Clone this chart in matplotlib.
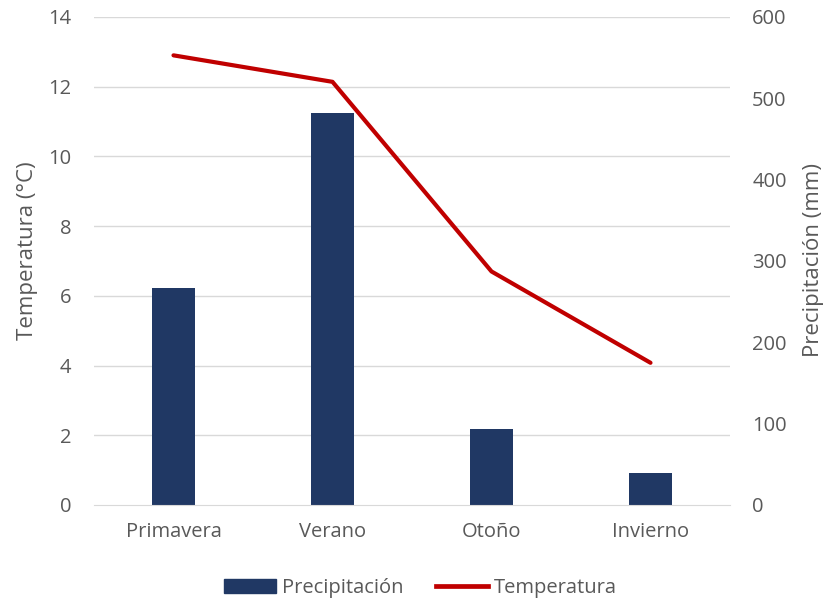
import matplotlib
matplotlib.use("Agg")
import matplotlib.pyplot as plt
from matplotlib.patches import Patch
from matplotlib.lines import Line2D

categories = ["Primavera", "Verano", "Otoño", "Invierno"]
precipitacion = [267, 482, 93, 39]
temperatura = [12.9, 12.14, 6.7, 4.08]
left_ticks = [0, 2, 4, 6, 8, 10, 12, 14]
right_ticks = [0, 100, 200, 300, 400, 500, 600]

plt.rcParams['font.family'] = ['Open Sans', 'DejaVu Sans']
grey = '#595959'
fs = 14.5

fig = plt.figure(figsize=(8.27, 6.03), dpi=100)
ax = fig.add_axes([94/827, (603-505)/603, (730-94)/827, (505-17)/603])
ax2 = ax.twinx()

x = list(range(len(categories)))
ax2.bar(x, precipitacion, width=0.27, color='#203864', zorder=2)
ax.plot(x, temperatura, color='#C00000', lw=3.0, solid_capstyle='round', zorder=3)

ax.set_zorder(ax2.get_zorder() + 1)
ax.patch.set_visible(False)

ax.set_xlim(-0.5, 3.5)
ax.set_ylim(0, 14)
ax2.set_ylim(0, 600)
ax.set_yticks(left_ticks)
ax2.set_yticks(right_ticks)
ax.set_xticks(x)
ax.set_xticklabels(categories)

ax2.grid(False)
for v in left_ticks[1:]:
    ax2.axhline(v * 600 / 14, color='#d9d9d9', lw=1, zorder=0)

for a in (ax, ax2):
    for s in a.spines.values():
        s.set_visible(False)
ax.tick_params(axis='y', length=0, labelsize=fs, colors=grey, pad=16.5)
ax2.tick_params(axis='y', length=0, labelsize=fs, colors=grey, pad=16)
ax.tick_params(axis='x', length=0, labelsize=fs, colors=grey, pad=12)
ax2.spines['bottom'].set_visible(True)
ax2.spines['bottom'].set_color('#d9d9d9')

ax.set_ylabel("Temperatura (°C)", fontsize=16, color=grey)
ax2.set_ylabel("Precipitación (mm)", fontsize=16, color=grey)
ax.yaxis.set_label_coords((38 - 94) / 636, (505 - 251) / 488)
ax2.yaxis.set_label_coords((803 - 94) / 636, (505 - 260) / 488)

handles = [Patch(color='#203864'), Line2D([0], [0], color='#C00000', lw=3.4)]
fig.legend(handles, ["Precipitación", "Temperatura"], loc='center',
           bbox_to_anchor=(0.5 + 7/827, 1 - 588/603),
           ncol=2, frameon=False, fontsize=fs, labelcolor=grey, handlelength=2.6,
           handletextpad=0.3, columnspacing=1.6)

fig.savefig("out.png", dpi=100)
